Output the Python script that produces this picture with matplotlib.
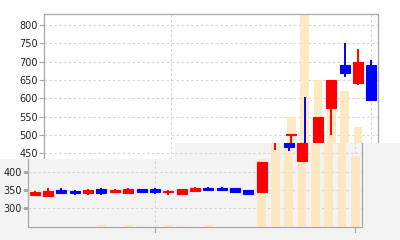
import matplotlib
matplotlib.use("Agg")
import matplotlib.pyplot as plt
import matplotlib.transforms as mtransforms
from matplotlib.patches import Polygon
import numpy as np

# daily candles (red = up, blue = down)
opens  = [336, 334, 349, 347, 341, 352, 343, 341, 352, 352, 343, 340, 347,
          356, 356, 355, 350, 343, 500, 477, 430, 573, 691, 641, 691]
highs  = [347, 354, 355, 349, 352, 356, 353, 354, 353, 356, 349, 353, 357,
          357, 359, 355, 350, 425, 503, 603, 550, 650, 750, 735, 705]
lows   = [334, 332, 338, 336, 337, 336, 341, 338, 341, 338, 336, 337, 346,
          349, 349, 345, 340, 343, 458, 455, 430, 500, 657, 636, 596]
closes = [343, 347, 342, 341, 350, 342, 349, 353, 345, 343, 347, 352, 355,
          350, 350, 345, 340, 425, 503, 467, 550, 650, 668, 700, 596]
volume = [0, 0, 0, 0, 0, 15, 0, 20, 10, 0, 15, 10, 0, 12, 0, 0, 0,
          680, 1095, 3000, 1465, 1250, 1360, 1000, 700]
price_ticks = [300, 350, 400, 450, 500, 550, 600, 650, 700, 750, 800]
date_ticks = [9, 24]

UP = "#ff0000"
DOWN = "#0000ff"
VOL = "#ffe6b8"
FRAME = "#a8a8a8"
GRID = "#d6d6d6"
SHADE = "#f3f3f3"
VOL_TOP = 2125.

plt.rcParams["font.family"] = ["DejaVu Sans"]
plt.rcParams["font.size"] = 7

W, H = 400, 240
fig = plt.figure(figsize=(W / 100, H / 100), dpi=100)

def drawChart(left_px, z, bg, keep_label):
    ax = fig.add_axes([left_px / W, 13.5 / H, 334 / W, 212.5 / H])
    ax.set_zorder(z)
    ax.set_facecolor(bg)
    idx = np.arange(len(opens))
    o = np.array(opens); c = np.array(closes)
    cols = [UP if cc >= oo else DOWN for oo, cc in zip(opens, closes)]

    # volume in the back, scaled to the axes height
    blend = mtransforms.blended_transform_factory(ax.transData, ax.transAxes)
    ax.bar(idx, np.array(volume) / VOL_TOP, width=0.65, color=VOL, alpha=0.85,
           transform=blend, zorder=1)

    ax.vlines(idx, lows, highs, colors=cols, lw=1.4, zorder=2)
    ax.bar(idx, np.abs(c - o), bottom=np.minimum(o, c), width=0.75,
           color=cols, edgecolor=cols, lw=0.8, zorder=3)

    ax.set_xlim(-0.5, 24.5)
    ax.set_ylim(250, 830)
    ax.set_yticks(price_ticks)
    # agg won't clip text to a path, so blank the labels that end up hidden
    ax.set_yticklabels([str(v) if keep_label(v) else "" for v in price_ticks])
    ax.set_xticks(date_ticks)
    ax.set_xticklabels(["", ""])
    ax.set_axisbelow(True)
    ax.grid(True, color=GRID, ls=(0, (2.2, 2.2)), lw=0.8)
    ax.tick_params(length=3.6, width=0.8, color=FRAME, pad=0.6, labelcolor="#222222")
    for s in ax.spines.values():
        s.set_color(FRAME)
        s.set_linewidth(0.9)
    return ax

def clipTo(ax, patch):
    things = list(ax.patches) + list(ax.collections) + list(ax.lines)
    things += list(ax.spines.values()) + [ax.patch]
    for axis in (ax.xaxis, ax.yaxis):
        for t in axis.get_major_ticks():
            things += [t.tick1line, t.tick2line, t.gridline]
    for a in things:
        a.set_clip_path(patch)
        a.set_clip_on(True)

ax = drawChart(44, 1, "white", lambda v: v > 400)

# lower band of the picture is a grey, shifted copy of the same chart
band = [(0, 159), (175, 159), (175, 143), (W, 143), (W, H), (0, H)]
shade = Polygon([(x / W, 1 - y / H) for x, y in band], closed=True,
                transform=fig.transFigure, facecolor=SHADE, edgecolor="none", zorder=2)
fig.add_artist(shade)

ax2 = drawChart(28, 3, SHADE, lambda v: v <= 400)
clipTo(ax2, shade)

fig.savefig("out.png", dpi=100)
